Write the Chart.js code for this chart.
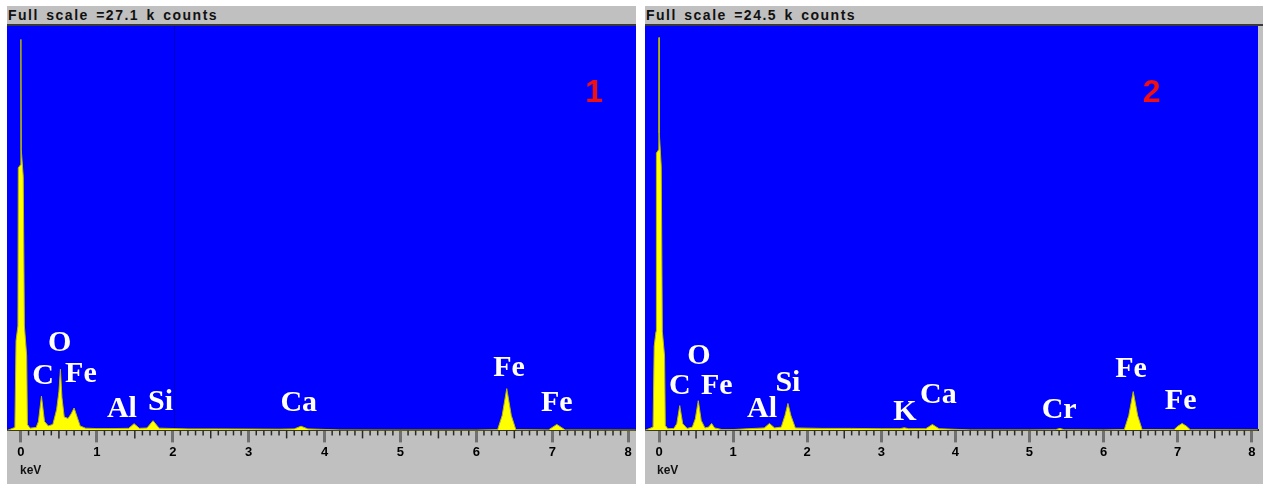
<!DOCTYPE html>
<html>
<head>
<meta charset="utf-8">
<script src="https://cdn.jsdelivr.net/npm/chart.js@4/dist/chart.umd.min.js"></script>
<style>
  body { margin: 0; background: #fff; width: 1263px; height: 484px; overflow: hidden; position: relative; }
  .panel { position: absolute; top: 6px; height: 478px; background: #c0c0c0; }
  .head { height: 18px; border-bottom: 2px solid #3a3a3a; font: bold 14px "Liberation Sans", Arial, sans-serif;
          letter-spacing: 1.5px; word-spacing: 2px; line-height: 19px; padding-left: 1px; color: #111; white-space: nowrap; }
  .panel canvas { display: block; }
</style>
</head>
<body>
<div class="panel" style="left:7px;width:629px">
  <div class="head">Full scale =27.1 k counts</div>
  <canvas id="spec1" width="629" height="458"></canvas>
</div>
<div class="panel" style="left:645px;width:618px">
  <div class="head">Full scale =24.5 k counts</div>
  <canvas id="spec2" width="618" height="458"></canvas>
</div>
<script>
// spectrum 1 (keV, k counts)
const energy1 = [-0.18, -0.08, -0.065, -0.04, -0.035, -0.005, -0.002, 0.0, 0.004, 0.03, 0.045, 0.075, 0.085, 0.12,
  0.2, 0.23, 0.27, 0.31, 0.36, 0.42, 0.47, 0.5, 0.52, 0.54, 0.57, 0.62, 0.66, 0.7, 0.74, 0.78, 0.85,
  1.0, 1.2, 1.42, 1.49, 1.56, 1.66, 1.74, 1.82, 2.2, 2.6, 3.0, 3.4, 3.6, 3.69, 3.78, 3.9, 4.2, 5.0, 6.0,
  6.28, 6.34, 6.4, 6.46, 6.52, 6.95, 7.0, 7.06, 7.12, 7.17, 8.1];
const counts1 = [0, 0.2, 6.0, 7.0, 17.6, 17.8, 18.8, 26.2, 18.8, 17.0, 7.0, 5.0, 0.4, 0.15,
  0.2, 0.6, 2.3, 0.6, 0.3, 0.4, 1.4, 2.6, 4.1, 2.2, 0.9, 0.8, 1.1, 1.5, 0.9, 0.3, 0.15,
  0.12, 0.12, 0.14, 0.45, 0.14, 0.16, 0.65, 0.15, 0.1, 0.1, 0.09, 0.08, 0.1, 0.28, 0.1, 0.08, 0.03, 0.02, 0.02,
  0.05, 1.0, 2.8, 1.0, 0.05, 0.03, 0.2, 0.4, 0.2, 0.03, 0.02];

// spectrum 2 (keV, k counts)
const energy2 = [-0.19, -0.08, -0.065, -0.04, -0.035, -0.005, -0.002, 0.0, 0.004, 0.03, 0.045, 0.075, 0.085, 0.12,
  0.2, 0.24, 0.28, 0.32, 0.38, 0.45, 0.49, 0.53, 0.57, 0.62, 0.67, 0.71, 0.75, 0.85,
  1.0, 1.2, 1.42, 1.49, 1.56, 1.65, 1.7, 1.74, 1.78, 1.84, 2.2, 2.6, 3.0, 3.25, 3.31, 3.37,
  3.6, 3.69, 3.78, 3.9, 4.2, 5.0, 5.35, 5.41, 5.47, 6.0,
  6.28, 6.34, 6.4, 6.46, 6.52, 6.95, 7.0, 7.06, 7.12, 7.17, 8.08];
const counts2 = [0, 0.2, 5.1, 6.0, 16.8, 17.0, 18.0, 23.8, 18.0, 16.0, 6.0, 4.5, 0.3, 0.1,
  0.12, 0.4, 1.5, 0.4, 0.12, 0.2, 0.7, 1.8, 0.6, 0.15, 0.2, 0.42, 0.15, 0.05,
  0.05, 0.1, 0.15, 0.42, 0.15, 0.2, 0.9, 1.63, 0.9, 0.15, 0.12, 0.12, 0.1, 0.1, 0.16, 0.1,
  0.1, 0.36, 0.1, 0.08, 0.03, 0.03, 0.04, 0.12, 0.04, 0.03,
  0.05, 0.9, 2.35, 0.9, 0.05, 0.04, 0.25, 0.42, 0.25, 0.04, 0.03];

const fullScale1 = 27.1;
const fullScale2 = 24.5;
const keVTicks = [0, 1, 2, 3, 4, 5, 6, 7, 8];

// peak labels (keV, k counts at text baseline)
const peaks1 = ['C', 'O', 'Fe', 'Al', 'Si', 'Ca', 'Fe', 'Fe'];
const peakKeV1 = [0.29, 0.51, 0.79, 1.33, 1.84, 3.66, 6.43, 7.06];
const peakAt1 = [3.14, 5.34, 3.27, 0.87, 1.40, 1.27, 3.67, 1.27];
const peaks2 = ['C', 'O', 'Fe', 'Al', 'Si', 'K', 'Ca', 'Cr', 'Fe', 'Fe'];
const peakKeV2 = [0.28, 0.54, 0.78, 1.39, 1.74, 3.32, 3.77, 5.40, 6.37, 7.04];
const peakAt2 = [2.23, 4.04, 2.23, 0.84, 2.41, 0.66, 1.63, 0.78, 3.26, 1.27];

const spectrumPlugin = {
  id: 'spectrum',
  beforeDraw(chart, args, opts) {
    const { ctx, chartArea: a, scales: { x } } = chart;
    ctx.save();
    ctx.fillStyle = '#0000ff';
    ctx.fillRect(a.left, a.top, a.right - a.left, a.bottom - a.top);
    if (opts.cursor != null) {
      const cx = Math.round(x.getPixelForValue(opts.cursor)) + 0.5;
      ctx.strokeStyle = '#0000c4';
      ctx.lineWidth = 1;
      ctx.beginPath();
      ctx.moveTo(cx, a.top);
      ctx.lineTo(cx, a.bottom);
      ctx.stroke();
    }
    ctx.restore();
  },
  afterDraw(chart, args, opts) {
    const { ctx, chartArea: a, scales: { x, y } } = chart;
    ctx.save();
    // minor ticks
    ctx.strokeStyle = '#2a2a2a';
    ctx.lineWidth = 1.5;
    for (let i = 1; i < 80; i++) {
      if (i % 10 === 0) continue;
      const px = x.getPixelForValue(i / 10);
      const len = i % 5 === 0 ? 8 : 5;
      ctx.beginPath();
      ctx.moveTo(px, a.bottom);
      ctx.lineTo(px, a.bottom + len);
      ctx.stroke();
    }
    // keV
    ctx.fillStyle = '#111';
    ctx.font = 'bold 12px "Liberation Sans", Arial, sans-serif';
    ctx.textAlign = 'left';
    ctx.fillText('keV', opts.unitX, a.bottom + 44);
    // peak names
    ctx.fillStyle = '#fff';
    ctx.font = 'bold 30px "Liberation Serif", "Times New Roman", serif';
    ctx.textAlign = 'center';
    opts.names.forEach((t, i) => {
      ctx.fillText(t, x.getPixelForValue(opts.keV[i]), y.getPixelForValue(opts.at[i]));
    });
    // spectrum number
    ctx.fillStyle = '#f01010';
    ctx.font = 'bold 32px "Liberation Sans", Arial, sans-serif';
    ctx.fillText(opts.num, x.getPixelForValue(opts.numKeV), y.getPixelForValue(opts.numAt));
    ctx.restore();
  }
};

function makeSpectrum(id, energy, counts, fullScale, xMin, xMax, rightPad, extra) {
  const ctx = document.getElementById(id).getContext('2d');
  return new Chart(ctx, {
    type: 'line',
    data: {
      datasets: [{
        data: energy.map((e, i) => ({ x: e, y: counts[i] })),
        borderColor: '#b8b800',
        borderWidth: 1,
        backgroundColor: '#ffff00',
        fill: 'origin',
        pointRadius: 0,
        tension: 0
      }]
    },
    options: {
      responsive: false,
      animation: false,
      layout: { padding: { left: 0, right: rightPad, top: 0, bottom: 22 } },
      plugins: {
        legend: { display: false },
        tooltip: { enabled: false },
        spectrum: extra
      },
      scales: {
        x: {
          type: 'linear',
          min: xMin,
          max: xMax,
          afterBuildTicks: s => { s.ticks = keVTicks.map(v => ({ value: v })); },
          grid: { drawOnChartArea: false, drawTicks: true, tickLength: 12, tickWidth: 3, tickColor: '#707070' },
          border: { display: true, color: '#1e1e1e', width: 2 },
          ticks: { color: '#000', padding: 2, maxRotation: 0, font: { family: 'Liberation Sans', size: 13, weight: 'bold' } }
        },
        y: { display: false, min: 0, max: fullScale }
      }
    },
    plugins: [spectrumPlugin]
  });
}

makeSpectrum('spec1', energy1, counts1, fullScale1, -0.184, 8.103, 0, {
  cursor: 2.02, unitX: 13, names: peaks1, keV: peakKeV1, at: peakAt1, num: '1', numKeV: 7.55, numAt: 22.0
});
makeSpectrum('spec2', energy2, counts2, fullScale2, -0.189, 8.084, 5, {
  cursor: null, unitX: 12, names: peaks2, keV: peakKeV2, at: peakAt2, num: '2', numKeV: 6.65, numAt: 19.9
});
</script>
</body>
</html>
